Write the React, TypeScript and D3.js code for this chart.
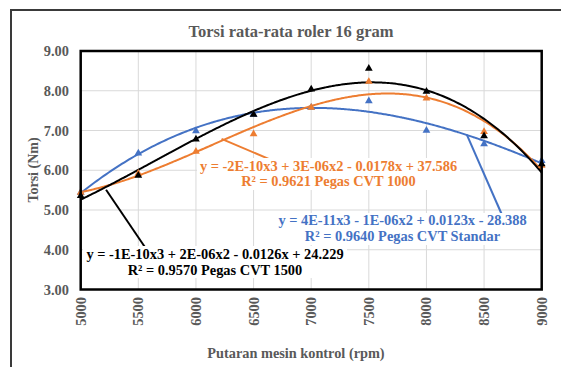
import React from "react";
import * as d3 from "d3";

const rpm = [5000, 5500, 6000, 6500, 7000, 7500, 8000, 8500, 9000];
const cvt1500 = [5.36, 5.87, 6.78, 7.4, 8.04, 8.56, 7.98, 6.86, 6.16];
const cvt1000 = [5.44, 5.92, 6.47, 6.91, 7.58, 8.23, 7.81, 6.97, 6.12];
const cvtStandar = [5.44, 6.43, 6.99, 7.4, 7.58, 7.74, 7.0, 6.66, 6.24];
const yTicks = [3, 4, 5, 6, 7, 8, 9];
const xTicks = [5000, 5500, 6000, 6500, 7000, 7500, 8000, 8500, 9000];
const labelStandar = ["y = 4E-11x3 - 1E-06x2 + 0.0123x - 28.388", "R² = 0.9640 Pegas CVT Standar"];
const label1000 = ["y = -2E-10x3 + 3E-06x2 - 0.0178x + 37.586", "R² = 0.9621 Pegas CVT 1000"];
const label1500 = ["y = -1E-10x3 + 2E-06x2 - 0.0126x + 24.229", "R² = 0.9570 Pegas CVT 1500"];

const BLUE = "#4472C4";
const ORANGE = "#ED7D31";
const BLACK = "#000000";
const GRAY = "#595959";
const FONT = "'Liberation Serif', 'Times New Roman', serif";

// cubic least squares fit (Excel polynomial trendline order 3)
function cubicFit(xs: number[], ys: number[]) {
  const n = 4;
  const t = xs.map((x) => (x - 7000) / 1000);
  const A: number[][] = Array.from({ length: n }, () => new Array(n + 1).fill(0));
  for (let k = 0; k < t.length; k++) {
    for (let i = 0; i < n; i++) {
      for (let j = 0; j < n; j++) A[i][j] += Math.pow(t[k], i + j);
      A[i][n] += Math.pow(t[k], i) * ys[k];
    }
  }
  for (let i = 0; i < n; i++) {
    let p = i;
    for (let r = i + 1; r < n; r++) if (Math.abs(A[r][i]) > Math.abs(A[p][i])) p = r;
    [A[i], A[p]] = [A[p], A[i]];
    for (let r = 0; r < n; r++) {
      if (r === i) continue;
      const f = A[r][i] / A[i][i];
      for (let c = i; c <= n; c++) A[r][c] -= f * A[i][c];
    }
  }
  const c = A.map((row, i) => row[n] / row[i]);
  return (x: number) => {
    const u = (x - 7000) / 1000;
    return c[0] + c[1] * u + c[2] * u * u + c[3] * u * u * u;
  };
}

export default function App() {
  const W = 561;
  const H = 367;
  const m = { left: 80.7, right: 541.7, top: 51, bottom: 289.5 };
  const x = d3.scaleLinear().domain([5000, 9000]).range([m.left, m.right]);
  const y = d3.scaleLinear().domain([3, 9]).range([m.bottom, m.top]);

  const series = [
    { data: cvtStandar, color: BLUE },
    { data: cvt1000, color: ORANGE },
    { data: cvt1500, color: BLACK },
  ];
  const samples = d3.range(5000, 9000.1, 20);
  const line = d3
    .line<[number, number]>()
    .x((d) => x(d[0]))
    .y((d) => y(d[1]))
    .curve(d3.curveMonotoneX);
  const tri = d3.symbol().type(d3.symbolTriangle).size(26);

  const eqStyle = { fontFamily: FONT, fontWeight: 700, fontSize: 14.4 } as const;

  return (
    <svg width={W} height={H} style={{ position: "absolute", left: 0, top: 0, background: "#fff" }}>
      <rect x={0} y={0} width={W} height={H} fill="#fff" />
      <rect x={11} y={10} width={700} height={500} fill="none" stroke="#3a3a3a" strokeWidth={2} />
      {/* grid */}
      {xTicks.map((t) => (
        <line key={"gx" + t} x1={x(t)} x2={x(t)} y1={m.top} y2={m.bottom} stroke="#d9d9d9" strokeWidth={1} />
      ))}
      {yTicks.map((t) => (
        <line key={"gy" + t} x1={m.left} x2={m.right} y1={y(t)} y2={y(t)} stroke="#d9d9d9" strokeWidth={1} />
      ))}
      {/* title */}
      <text x={291} y={36.5} textAnchor="middle" fill={GRAY} style={{ fontFamily: FONT, fontWeight: 700, fontSize: 16.5 }}>
        Torsi rata-rata  roler 16 gram
      </text>
      {/* y ticks */}
      {yTicks.map((t) => (
        <text key={"yt" + t} x={69} y={y(t) + 5} textAnchor="end" fill={GRAY} style={{ fontFamily: FONT, fontWeight: 700, fontSize: 14.4 }}>
          {t.toFixed(2)}
        </text>
      ))}
      {/* x ticks */}
      {xTicks.map((t) => (
        <text
          key={"xt" + t}
          transform={`translate(${x(t) + 5},297) rotate(-90)`}
          textAnchor="end"
          fill={GRAY}
          style={{ fontFamily: FONT, fontWeight: 700, fontSize: 14.4 }}
        >
          {t}
        </text>
      ))}
      {/* axis titles */}
      <text x={296} y={358} textAnchor="middle" fill={GRAY} style={{ fontFamily: FONT, fontWeight: 700, fontSize: 14.3 }}>
        Putaran mesin kontrol (rpm)
      </text>
      <text transform="translate(38,170) rotate(-90)" textAnchor="middle" fill={GRAY} style={{ fontFamily: FONT, fontWeight: 700, fontSize: 14 }}>
        Torsi (Nm)
      </text>
      {/* trendlines */}
      {series.map((s, i) => {
        const f = cubicFit(rpm, s.data);
        const pts = samples.map((v) => [v, f(v)] as [number, number]);
        return <path key={"c" + i} d={line(pts) || ""} fill="none" stroke={s.color} strokeWidth={2} />;
      })}
      {/* markers */}
      {series.map((s, i) =>
        s.data.map((v, j) => (
          <path key={`m${i}-${j}`} d={tri() || ""} transform={`translate(${x(rpm[j])},${y(v)})`} fill={s.color} />
        ))
      )}
      {/* plot border */}
      <rect x={m.left} y={m.top} width={m.right - m.left} height={m.bottom - m.top} fill="none" stroke="#000" strokeWidth={2.5} />
      {/* leader lines */}
      <line x1={x(6222)} y1={y(6.79)} x2={x(6661)} y2={y(6.25)} stroke={ORANGE} strokeWidth={2} />
      <line x1={x(8351)} y1={y(6.89)} x2={x(8655)} y2={y(4.88)} stroke={BLUE} strokeWidth={2} />
      <line x1={x(5220)} y1={y(5.51)} x2={x(5573)} y2={y(4.0)} stroke={BLACK} strokeWidth={2} />
      {/* equation labels */}
      <rect x={197} y={158} width={263} height={32} fill="#fff" />
      {label1000.map((s, i) => (
        <text key={"l1" + i} x={328.5} y={170.5 + i * 15.7} textAnchor="middle" fill={ORANGE} style={eqStyle}>
          {s}
        </text>
      ))}
      <rect x={275} y={213} width={256} height={32} fill="#fff" />
      {labelStandar.map((s, i) => (
        <text key={"l2" + i} x={402.5} y={225 + i * 16} textAnchor="middle" fill={BLUE} style={eqStyle}>
          {s}
        </text>
      ))}
      <rect x={83} y={246} width={264} height={32} fill="#fff" />
      {label1500.map((s, i) => (
        <text key={"l3" + i} x={215} y={258.5 + i * 16} textAnchor="middle" fill={BLACK} style={eqStyle}>
          {s}
        </text>
      ))}
    </svg>
  );
}
